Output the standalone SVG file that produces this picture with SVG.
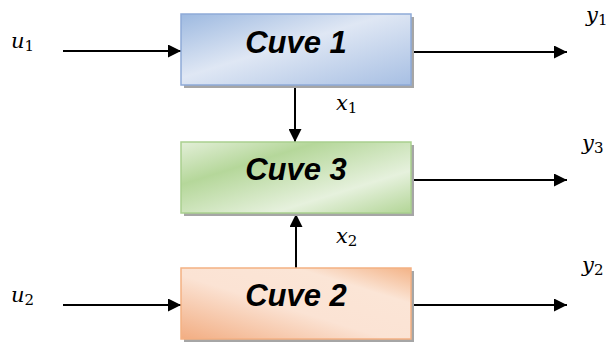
<svg xmlns="http://www.w3.org/2000/svg" width="611" height="343" viewBox="0 0 611 343">
<defs>
<linearGradient id="gb" x1="0" y1="0" x2="1" y2="1">
<stop offset="0" stop-color="#9db9e0"/><stop offset="0.45" stop-color="#dfe7f4"/><stop offset="1" stop-color="#a7bfe3"/>
</linearGradient>
<linearGradient id="gg" x1="0" y1="0" x2="1" y2="1">
<stop offset="0" stop-color="#e3efd8"/><stop offset="0.3" stop-color="#b5d79a"/><stop offset="0.7" stop-color="#e6f1dd"/><stop offset="1" stop-color="#b2d596"/>
</linearGradient>
<linearGradient id="go" x1="0" y1="1" x2="1" y2="0">
<stop offset="0" stop-color="#f2ad82"/><stop offset="0.45" stop-color="#fbe3d4"/><stop offset="0.75" stop-color="#fbe5d6"/><stop offset="1" stop-color="#f3b387"/>
</linearGradient>
<marker id="ah" viewBox="0 0 10 10" refX="10" refY="5" markerWidth="13" markerHeight="13" markerUnits="userSpaceOnUse" orient="auto">
<path d="M0,0 L10,5 L0,10 Z" fill="#000"/>
</marker>
</defs>
<style>
.sh{fill:#a6a6a6}
.box{stroke-width:1.5}
.lbl{font-family:"Liberation Sans",Arial,sans-serif;font-weight:bold;font-style:italic;font-size:31px;text-anchor:middle;fill:#000}
.m{font-family:"DejaVu Serif","Liberation Serif",serif;font-style:italic;font-size:21px;fill:#000}
.s{font-style:normal;font-size:15px}
.c{stroke:#000;stroke-width:2;fill:none;marker-end:url(#ah)}
</style>
<g id="connectors">
<line class="c" x1="63" y1="51" x2="181" y2="51"/>
<line class="c" x1="411" y1="52" x2="567" y2="52"/>
<line class="c" x1="295" y1="86" x2="295" y2="142"/>
<line class="c" x1="411" y1="180" x2="567" y2="180"/>
<line class="c" x1="296" y1="268" x2="296" y2="214"/>
<line class="c" x1="63" y1="305" x2="181" y2="305"/>
<line class="c" x1="411" y1="305" x2="567" y2="305"/>
</g>
<g id="cuve1">
<rect class="sh" x="184" y="17" width="230" height="71"/>
<rect class="box" x="181" y="14" width="230" height="71" fill="url(#gb)" stroke="#8eaad8"/>
<text class="lbl" x="296" y="53">Cuve 1</text>
</g>
<g id="cuve3">
<rect class="sh" x="184" y="145" width="230" height="71"/>
<rect class="box" x="181" y="142" width="230" height="71" fill="url(#gg)" stroke="#a9d08e"/>
<text class="lbl" x="296" y="180">Cuve 3</text>
</g>
<g id="cuve2">
<rect class="sh" x="184" y="271" width="230" height="71"/>
<rect class="box" x="181" y="268" width="230" height="71" fill="url(#go)" stroke="#f4b183"/>
<text class="lbl" x="296" y="306">Cuve 2</text>
</g>
<g id="labels">
<text class="m" x="11" y="48">u<tspan class="s" dy="3">1</tspan></text>
<text class="m" x="586" y="22">y<tspan class="s" dy="3">1</tspan></text>
<text class="m" x="336" y="110">x<tspan class="s" dy="3">1</tspan></text>
<text class="m" x="582" y="150">y<tspan class="s" dy="3">3</tspan></text>
<text class="m" x="336" y="243">x<tspan class="s" dy="3">2</tspan></text>
<text class="m" x="582" y="272">y<tspan class="s" dy="3">2</tspan></text>
<text class="m" x="11" y="302">u<tspan class="s" dy="3">2</tspan></text>
</g>
</svg>
